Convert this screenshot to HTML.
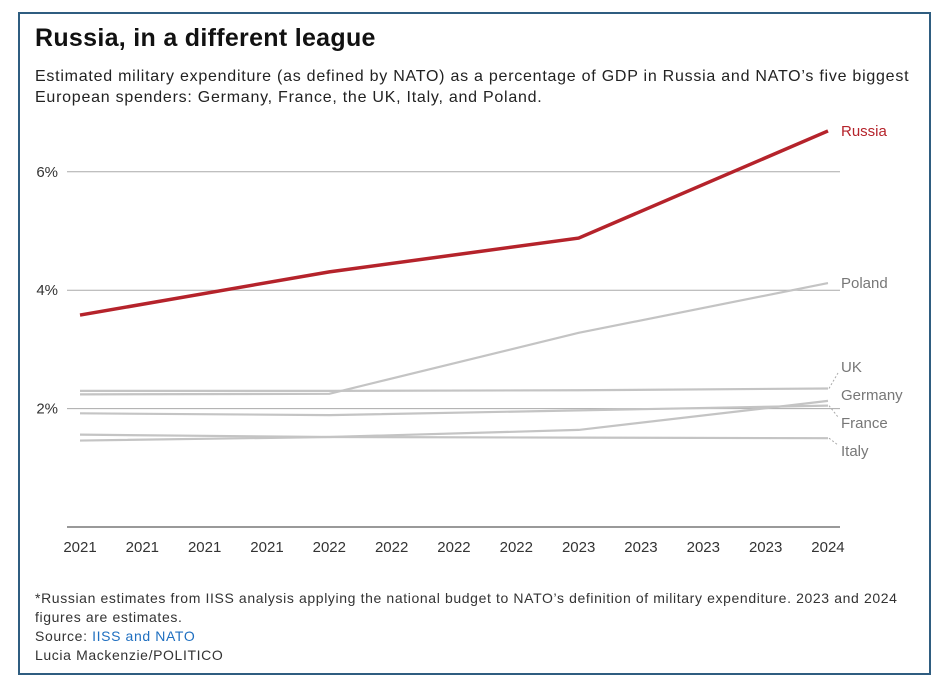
<!DOCTYPE html>
<html><head><meta charset="utf-8"><style>
body{margin:0;background:#fff;font-family:"Liberation Sans",sans-serif;}
#card{position:absolute;left:18px;top:12px;width:909px;height:659px;border:2px solid #2f5d80;}
.t{position:absolute;white-space:nowrap;color:#222;}
</style></head><body>
<div id="card"></div>
<div class="t" style="left:35px;top:24px;font-size:25px;font-weight:bold;color:#111;letter-spacing:0.3px">Russia, in a different league</div>
<div class="t" style="left:35px;top:66px;font-size:16px;line-height:21px;letter-spacing:0.75px">Estimated military expenditure (as defined by NATO) as a percentage of GDP in Russia and NATO’s five biggest<br>European spenders: Germany, France, the UK, Italy, and Poland.</div>
<svg id="chart" width="952" height="692" style="position:absolute;left:0;top:0"></svg>
<div class="t" style="left:35px;top:589px;font-size:14px;line-height:19px;color:#333;letter-spacing:0.62px">*Russian estimates from IISS analysis applying the national budget to NATO’s definition of military expenditure. 2023 and 2024<br>figures are estimates.<br>Source: <span style="color:#1f6fc0">IISS and NATO</span><br>Lucia Mackenzie/POLITICO</div>
<script>
const xLabels=["2021","2021","2021","2021","2022","2022","2022","2022","2023","2023","2023","2023","2024"];
const years=[2021,2022,2023,2024];
const yTicks=[2,4,6];
const russia=[3.58,4.31,4.88,6.69];
const poland=[2.24,2.25,3.28,4.12];
const uk=[2.30,2.30,2.31,2.34];
const germany=[1.46,1.52,1.64,2.13];
const france=[1.92,1.89,1.97,2.05];
const italy=[1.56,1.52,1.51,1.50];
const NS="http://www.w3.org/2000/svg";
const svg=document.getElementById('chart');
const x=y=>80+(y-2021)*249.33;
const yS=v=>527-v*59.2;
function mk(t,a,txt){const e=document.createElementNS(NS,t);for(const k in a)e.setAttribute(k,a[k]);if(txt!==undefined)e.textContent=txt;svg.appendChild(e);return e;}
yTicks.forEach(v=>{
 const g=mk('line',{x1:67,x2:840,y1:yS(v),y2:yS(v),stroke:'#aaa','stroke-width':1});
 
 
 const l=mk('text',{x:58,y:yS(v)+5,'text-anchor':'end','font-size':15,fill:'#333','font-family':'Liberation Sans'},v+'%');
 
 
});
const ax=mk('line',{x1:67,x2:840,y1:527,y2:527,stroke:'#333','stroke-width':1});


xLabels.forEach((s,i)=>{
 const t=mk('text',{x:80+i*62.33,y:552,'text-anchor':'middle','font-size':15,fill:'#333','font-family':'Liberation Sans'},s);
 
 
});
const series=[
 ['uk',uk,'UK',367],['germany',germany,'Germany',395],['france',france,'France',423],['italy',italy,'Italy',451],['poland',poland,'Poland',283],['russia',russia,'Russia',131]];
series.forEach(([n,d,lab,ly])=>{
 const red=n==='russia';
 const p=mk('polyline',{points:d.map((v,i)=>x(years[i])+','+yS(v)).join(' '),fill:'none',stroke:red?'#b5232b':'#c4c4c4','stroke-width':red?3.5:2.2});
 
 
 const ey=yS(d[3]);
 if(Math.abs(ey-ly)>12){
  const ld=mk('line',{x1:829,y1:ey,x2:838,y2:ly+(ly<ey?6:-6),stroke:'#aaa','stroke-width':1,'stroke-dasharray':'2,2'});
  
  
 }
 const t=mk('text',{x:841,y:ly+5,'font-size':15,fill:red?'#b5232b':'#777','font-family':'Liberation Sans'},lab);
 
 
});
</script>
</body></html>
